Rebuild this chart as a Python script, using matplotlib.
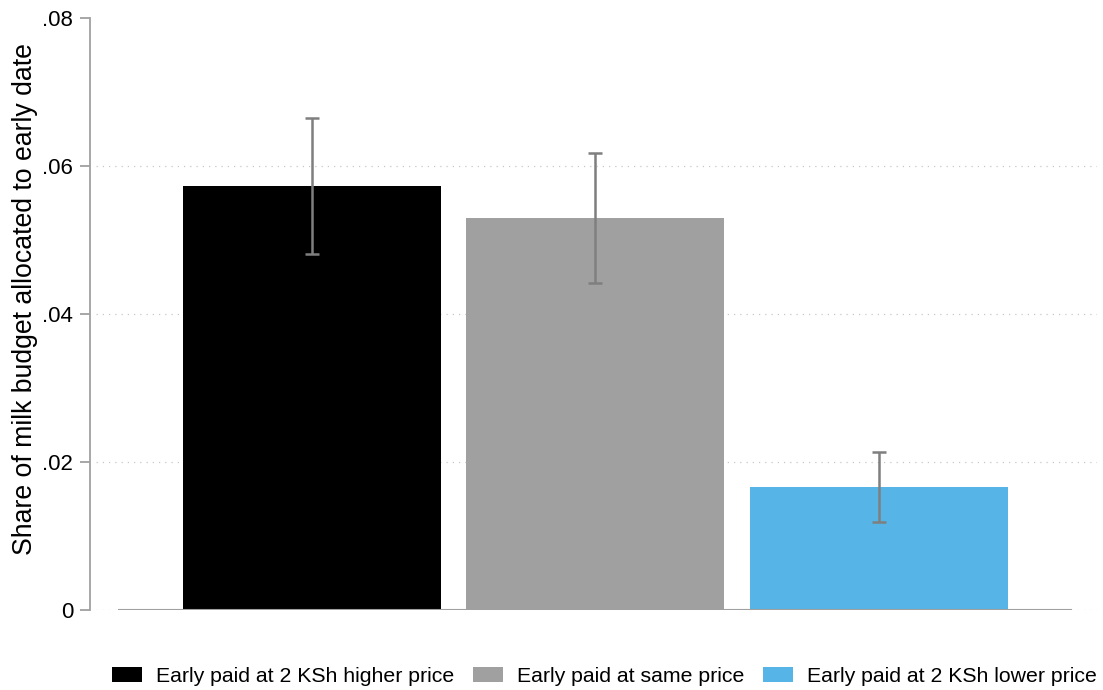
import matplotlib.pyplot as plt
from matplotlib.patches import Patch

plt.rcParams['font.family'] = ['Liberation Sans', 'DejaVu Sans']

groups = ["Early paid at 2 KSh higher price", "Early paid at same price",
          "Early paid at 2 KSh lower price"]
share = [0.0573, 0.0530, 0.0166]
ci_low = [0.0481, 0.0442, 0.0119]
ci_high = [0.0665, 0.0618, 0.0214]
colors = ["#000000", "#a0a0a0", "#56b4e6"]
yticks = [0, 0.02, 0.04, 0.06, 0.08]
ytick_labels = ["0", ".02", ".04", ".06", ".08"]

fig = plt.figure(figsize=(11.03, 6.9), dpi=100)
ax = fig.add_axes([90 / 1103, 80 / 690, 1007 / 1103, 592 / 690])

x = [1, 2, 3]
ax.bar(x, share, width=0.91, color=colors, zorder=2)
err_lo = [s - l for s, l in zip(share, ci_low)]
err_hi = [h - s for s, h in zip(share, ci_high)]
ax.errorbar(x, share, yerr=[err_lo, err_hi], fmt="none", ecolor="#7f7f7f",
            elinewidth=1.8, capsize=5, capthick=1.8, zorder=3)

# dotted gridlines (none at the top tick)
for t in yticks[:-1]:
    ax.axhline(t, xmin=6 / 1007, color="#c8c8c8", linestyle=(0, (1, 4)),
               linewidth=0.9, zorder=1)
ax.plot([0.316, 3.681], [0, 0], color="#a0a0a0", linewidth=1.5, zorder=4,
        solid_capstyle="butt")

ax.set_xlim(0.217, 3.769)
ax.set_ylim(0, 0.08)
ax.set_yticks(yticks)
ax.set_yticklabels(ytick_labels)
ax.set_xticks([])
for s in ["top", "right", "bottom"]:
    ax.spines[s].set_visible(False)
ax.spines["left"].set_color("#a0a0a0")
ax.spines["left"].set_linewidth(1.3)
ax.tick_params(axis="y", length=7, width=1.3, color="#a0a0a0", labelsize=16, pad=5)
ax.set_ylabel("Share of milk budget allocated to early date", fontsize=19.2)
ax.yaxis.set_label_coords(-52 / 1007, 311 / 592)

handles = [Patch(facecolor=c, edgecolor="none") for c in colors]
fig.legend(handles, groups, loc="center", bbox_to_anchor=(604.5 / 1103, 14 / 690),
           ncol=3, frameon=False, fontsize=15.3, handlelength=1.41, handleheight=0.71,
           handletextpad=0.66, columnspacing=0.87)

fig.savefig("out.png", dpi=100)
